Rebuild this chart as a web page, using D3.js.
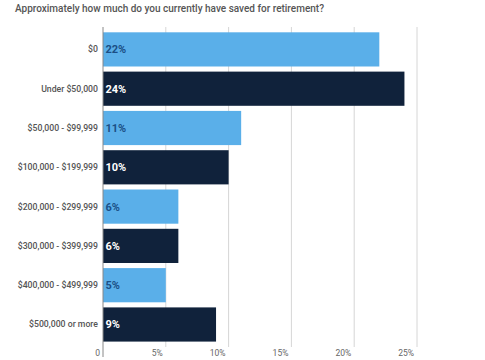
<!DOCTYPE html>
<html>
<head>
<meta charset="utf-8">
<script src="https://cdn.jsdelivr.net/npm/d3@7"></script>
<style>
  html, body { margin: 0; padding: 0; background: #fff; }
  svg { display: block; font-family: Roboto, "Noto Sans", sans-serif; }
</style>
</head>
<body>
<svg id="chart" width="485" height="360"></svg>
<script>
const title = "Approximately how much do you currently have saved for retirement?";
const categories = ["$0", "Under $50,000", "$50,000 - $99,999", "$100,000 - $199,999",
  "$200,000 - $299,999", "$300,000 - $399,999", "$400,000 - $499,999", "$500,000 or more"];
const values = [22, 24, 11, 10, 6, 6, 5, 9];
const tickValues = [0, 5, 10, 15, 20, 25];
const tickLabels = ["0", "5%", "10%", "15%", "20%", "25%"];

const colorsLight = "#5aafe9";
const colorsDark = "#10223b";

const svg = d3.select("#chart");
const x = d3.scaleLinear().domain([0, 25]).range([103, 417]);
const y = d3.scaleBand().domain(categories).range([27.2, 346.7]).paddingInner(0.13).paddingOuter(0.13);

svg.append("text")
  .attr("x", 15).attr("y", 12)
  .attr("font-size", 10).attr("font-weight", 500).attr("fill", "#555")
  .text(title);

// grid lines
svg.append("g").selectAll("line").data(tickValues.slice(1)).join("line")
  .attr("x1", d => x(d)).attr("x2", d => x(d))
  .attr("y1", 27).attr("y2", 347)
  .attr("stroke", "#d6d6d6").attr("stroke-width", 1);

// bars
svg.append("g").selectAll("rect").data(values).join("rect")
  .attr("x", x(0))
  .attr("y", (d, i) => y(categories[i]))
  .attr("width", d => x(d) - x(0))
  .attr("height", y.bandwidth())
  .attr("fill", (d, i) => i % 2 === 0 ? colorsLight : colorsDark);

// zero axis line
svg.append("line")
  .attr("x1", x(0)).attr("x2", x(0)).attr("y1", 27).attr("y2", 357)
  .attr("stroke", "#888").attr("stroke-width", 1);

// value labels
svg.append("g").selectAll("text").data(values).join("text")
  .attr("x", x(0) + 2.5)
  .attr("y", (d, i) => y(categories[i]) + y.bandwidth() / 2 + 4)
  .attr("font-size", 11).attr("font-weight", 700)
  .attr("fill", (d, i) => i % 2 === 0 ? "#1b4f86" : "#ffffff")
  .text(d => d + "%");

// category labels
svg.append("g").selectAll("text").data(categories).join("text")
  .attr("x", 98)
  .attr("y", d => y(d) + y.bandwidth() / 2 + 3)
  .attr("text-anchor", "end")
  .attr("font-size", 8.7).attr("font-weight", 500).attr("fill", "#555")
  .text(d => d);

// x tick labels
svg.append("g").selectAll("text").data(tickValues).join("text")
  .attr("x", d => x(d) - 3)
  .attr("y", 356)
  .attr("text-anchor", "end")
  .attr("font-size", 8.5).attr("fill", "#666")
  .text((d, i) => tickLabels[i]);
</script>
</body>
</html>
